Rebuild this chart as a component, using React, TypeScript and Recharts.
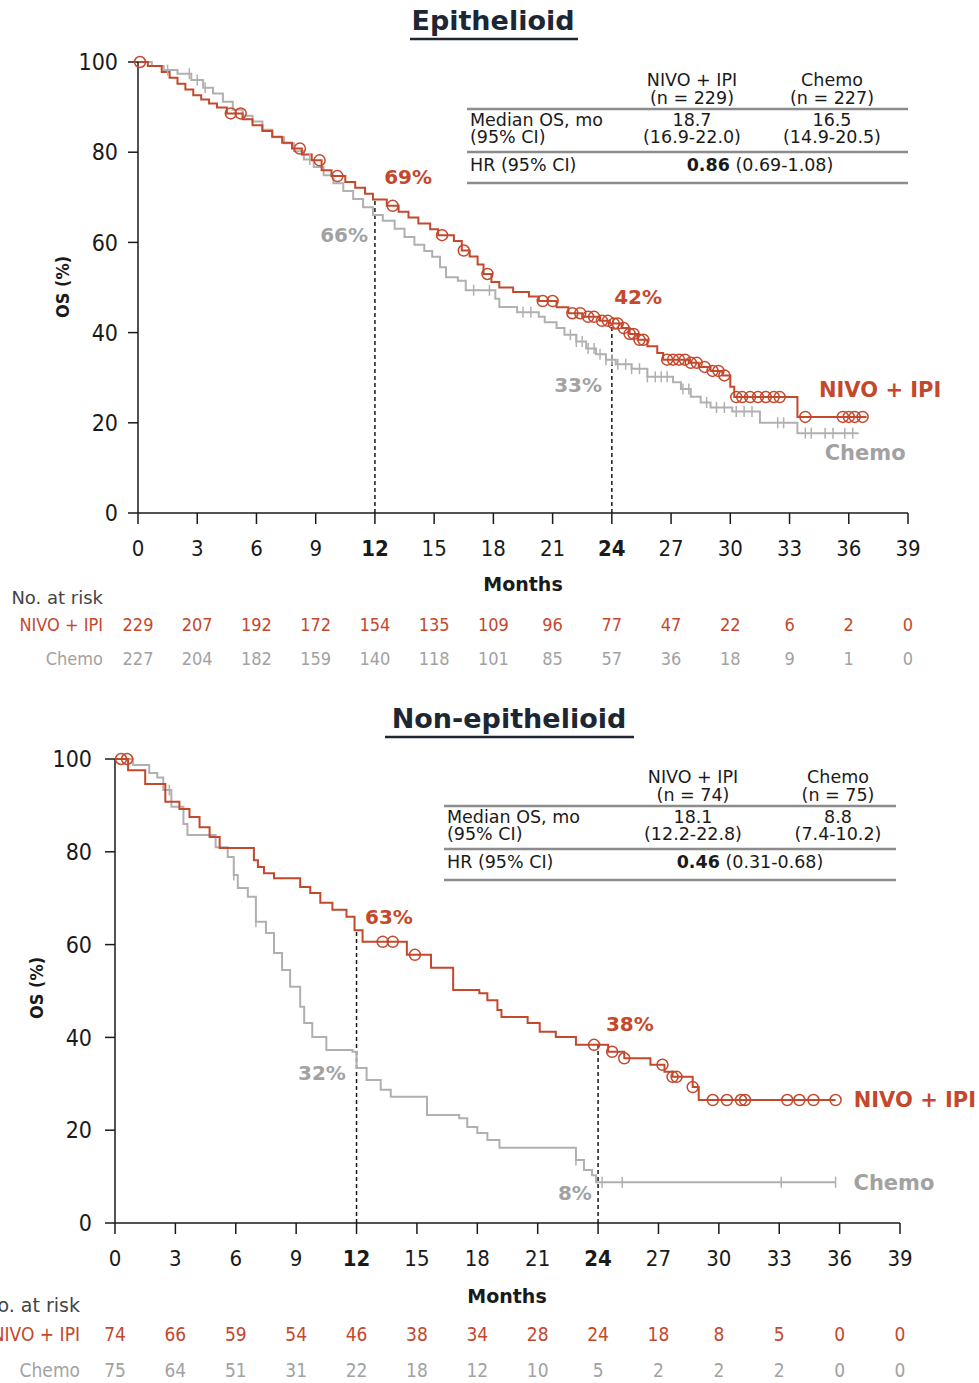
import React from "react";
import { ComposedChart, Line, Scatter, XAxis, YAxis, ReferenceLine, ReferenceDot } from "recharts";

const RED = "#c4482c";
const GRAY = "#b0b0b0";
const GRAY_TXT = "#a2a2a2";
const INK = "#1a1a1a";
const FONT = "'DejaVu Sans', sans-serif";
const COND = "'DejaVu Sans Condensed', 'DejaVu Sans', sans-serif";

const MONTHS = [0, 3, 6, 9, 12, 15, 18, 21, 24, 27, 30, 33, 36, 39];
const OS_TICKS = [0, 20, 40, 60, 80, 100];

// Epithelioid — KM steps [month, OS %]
const epiNivoSteps = [
  [0, 100], [0.5, 99.1], [1.2, 97.8], [1.6, 96.5], [2.0, 95.2], [2.4, 93.9], [2.8, 92.6], [3.2, 91.7],
  [3.6, 90.8], [4.0, 89.9], [4.5, 88.6], [5.3, 87.3], [5.8, 86.0], [6.3, 84.7], [6.8, 83.4], [7.3, 82.1],
  [7.8, 80.8], [8.3, 79.5], [8.8, 78.2], [9.3, 76.0], [9.8, 74.7], [10.5, 73.4], [11.0, 72.1], [11.5, 70.8],
  [11.9, 69.5], [12.6, 68.1], [13.2, 66.8], [13.7, 65.5], [14.2, 64.2], [14.8, 62.9], [15.2, 61.6], [16.0, 60.3],
  [16.4, 58.2], [16.8, 56.9], [17.2, 55.1], [17.5, 53.0], [17.9, 51.2], [18.3, 50.0], [19.0, 49.0], [19.8, 48.0],
  [20.3, 47.0], [21.2, 45.6], [21.8, 44.3], [22.5, 43.5], [23.4, 42.6], [23.9, 42.0], [24.5, 41.0], [24.9, 39.7],
  [25.3, 38.4], [25.8, 37.0], [26.3, 35.5], [26.6, 34.0], [27.9, 33.3], [28.4, 32.4], [29.0, 31.5], [29.6, 30.5],
  [30.0, 28.0], [30.2, 25.7], [33.4, 21.3], [36.9, 21.3],
];
const epiNivoCensor = [
  0.1, 4.7, 5.2, 8.2, 9.2, 10.1, 12.9, 15.4, 16.5, 17.7, 20.5, 21.0, 22.0, 22.4, 22.8, 23.1, 23.5, 23.8,
  24.1, 24.3, 24.6, 24.9, 25.1, 25.4, 25.6, 26.8, 27.1, 27.4, 27.7, 28.0, 28.3, 28.7, 29.1, 29.4, 29.7,
  30.3, 30.6, 31.0, 31.4, 31.8, 32.2, 32.5, 33.8, 35.7, 36.0, 36.3, 36.7,
];
const epiChemoSteps = [
  [0, 100], [0.7, 99.1], [1.3, 98.2], [2.0, 97.4], [2.7, 96.0], [3.3, 94.3], [3.8, 93.0], [4.3, 91.2],
  [4.8, 89.4], [5.3, 88.1], [5.8, 86.8], [6.3, 85.0], [6.8, 83.3], [7.4, 82.0], [7.9, 80.2], [8.4, 78.4],
  [8.9, 76.7], [9.4, 74.9], [9.9, 73.1], [10.4, 71.4], [10.9, 69.6], [11.4, 67.8], [11.9, 66.1], [12.4, 64.8],
  [13.0, 63.0], [13.5, 61.2], [14.0, 59.5], [14.5, 58.1], [14.9, 56.8], [15.3, 54.5], [15.6, 52.3], [16.2, 51.5],
  [16.6, 49.4], [18.1, 47.5], [18.3, 45.7], [19.2, 44.5], [20.3, 43.5], [20.6, 42.3], [21.2, 41.0], [21.6, 39.5],
  [22.2, 38.0], [22.7, 36.5], [23.2, 35.2], [23.7, 34.0], [24.2, 33.0], [25.0, 32.0], [25.8, 30.2], [27.1, 29.0],
  [27.5, 27.5], [28.0, 25.8], [28.5, 24.5], [29.0, 23.4], [30.1, 22.5], [31.5, 20.0], [33.4, 17.7], [36.5, 17.7],
];
const epiChemoCensor = [
  1.5, 2.6, 3.0, 3.4, 8.7, 17.0, 17.8, 19.5, 19.9, 21.9, 22.2, 22.5, 22.8, 23.1, 23.4, 23.7, 24.0, 24.3,
  24.7, 25.0, 25.4, 25.8, 26.2, 26.5, 26.8, 27.6, 27.9, 28.8, 29.3, 29.7, 30.3, 30.7, 31.1, 32.4, 32.7,
  33.8, 34.1, 34.8, 35.2, 35.8, 36.2,
];
const epiRiskNivo = [229, 207, 192, 172, 154, 135, 109, 96, 77, 47, 22, 6, 2, 0];
const epiRiskChemo = [227, 204, 182, 159, 140, 118, 101, 85, 57, 36, 18, 9, 1, 0];

// Non-epithelioid
const nonNivoSteps = [
  [0, 100], [0.65, 97.6], [1.5, 94.6], [2.5, 90.8], [3.2, 89.2], [3.7, 87.5], [4.2, 85.3], [4.7, 83.2],
  [5.2, 80.8], [6.9, 78.2], [7.1, 76.7], [7.4, 75.4], [7.9, 74.3], [9.2, 72.4], [9.7, 71.1], [10.2, 69.0],
  [10.8, 67.5], [11.5, 66.0], [11.9, 63.1], [12.3, 60.6], [14.5, 57.8], [15.7, 55.0], [16.8, 50.2], [18.1, 49.5],
  [18.5, 48.0], [19.0, 45.9], [19.2, 44.4], [20.5, 43.1], [21.1, 41.2], [21.9, 40.1], [22.9, 38.4], [24.5, 36.9],
  [25.3, 35.5], [26.6, 34.1], [27.3, 32.6], [27.7, 31.5], [28.7, 29.3], [29.0, 26.5], [35.8, 26.5],
];
const nonNivoCensor = [
  0.3, 0.6, 13.3, 13.8, 14.9, 23.8, 24.7, 25.3, 27.2, 27.7, 27.9, 28.7, 29.7, 30.4, 31.1, 31.3, 33.4, 34.0, 34.7, 35.8,
];
const nonChemoSteps = [
  [0, 100], [0.9, 98.7], [1.7, 97.0], [2.1, 96.0], [2.4, 93.3], [2.8, 89.7], [3.4, 86.0], [3.6, 83.6],
  [5.0, 81.0], [5.6, 78.9], [5.9, 75.0], [6.1, 72.2], [6.6, 70.3], [7.0, 64.9], [7.5, 62.5], [7.9, 58.2],
  [8.3, 54.5], [8.7, 50.9], [9.2, 46.6], [9.4, 43.1], [9.8, 40.1], [10.5, 37.3], [11.8, 36.9], [12.0, 33.4],
  [12.5, 30.8], [13.2, 28.7], [13.7, 27.2], [15.5, 23.3], [17.1, 22.6], [17.5, 20.7], [18.0, 19.4], [18.5, 17.9],
  [19.1, 16.2], [22.9, 13.6], [23.3, 11.4], [23.7, 10.3], [23.9, 8.8], [35.8, 8.8],
];
const nonChemoCensor = [2.7, 5.9, 7.0, 22.9, 24.2, 25.2, 33.1, 35.8];
const nonRiskNivo = [74, 66, 59, 54, 46, 38, 34, 28, 24, 18, 8, 5, 0, 0];
const nonRiskChemo = [75, 64, 51, 31, 22, 18, 12, 10, 5, 2, 2, 2, 0, 0];

const toPts = (steps: number[][]) => steps.map(([t, s]) => ({ t, s }));
const survAt = (steps: number[][], t: number) => {
  let s = steps[0][1];
  for (const [tt, ss] of steps) if (tt <= t) s = ss;
  return s;
};
const censorPts = (steps: number[][], times: number[]) => times.map((t) => ({ t, s: survAt(steps, t) }));

const CircleMark = (p: any) => (
  <circle cx={p.cx} cy={p.cy} r={5.5} fill="none" stroke={RED} strokeWidth={1.5} />
);
const TickMark = (p: any) => (
  <line x1={p.cx} x2={p.cx} y1={p.cy - 5.5} y2={p.cy + 5.5} stroke={GRAY} strokeWidth={1.5} />
);

const XTick = (p: any) => {
  const v = p.payload.value;
  const bold = v === 12 || v === 24;
  return (
    <text x={p.x} y={p.y} dy="0.72em" textAnchor="middle" fontSize={22} fontFamily={COND}
      fontWeight={bold ? 700 : 400} fill={INK}>{v}</text>
  );
};
const YTick = (p: any) => (
  <text x={p.x} y={p.y} dy="0.36em" textAnchor="end" fontSize={23} fontFamily={COND} fill={INK}>
    {p.payload.value}
  </text>
);

type Lbl = { t: number; s: number; text: string; color: string; size: number };

function KMPanel(props: {
  top: number; height: number; plotTop: number; plotBottom: number; plotLeft: number; plotRight: number;
  nivo: number[][]; chemo: number[][]; nivoCensor: number[]; chemoCensor: number[];
  dash12: number; dash24: number; labels: Lbl[]; yTickMargin: number;
}) {
  const { top, height, plotTop, plotBottom, plotLeft, plotRight } = props;
  const axisStyle = { stroke: INK, strokeWidth: 1.5 };
  return (
    <div style={{ position: "absolute", left: 0, top }}>
      <ComposedChart
        width={979}
        height={height}
        margin={{ top: plotTop, right: 979 - plotRight, left: plotLeft - 60, bottom: height - plotBottom - 40 }}
      >
        <XAxis type="number" dataKey="t" domain={[0, 39]} ticks={MONTHS} interval={0} height={40}
          tickSize={11} tickMargin={16} axisLine={axisStyle} tickLine={axisStyle} tick={<XTick />} />
        <YAxis type="number" domain={[0, 100]} ticks={OS_TICKS} interval={0} width={60}
          tickSize={10} tickMargin={props.yTickMargin} axisLine={axisStyle} tickLine={axisStyle} tick={<YTick />} />
        <ReferenceLine segment={[{ x: 12, y: 0 }, { x: 12, y: props.dash12 }]} stroke={INK}
          strokeWidth={1.5} strokeDasharray="4 3" />
        <ReferenceLine segment={[{ x: 24, y: 0 }, { x: 24, y: props.dash24 }]} stroke={INK}
          strokeWidth={1.5} strokeDasharray="4 3" />
        <Line data={toPts(props.chemo)} dataKey="s" type="stepAfter" stroke={GRAY} strokeWidth={2}
          dot={false} isAnimationActive={false} />
        <Scatter data={censorPts(props.chemo, props.chemoCensor)} dataKey="s" shape={TickMark}
          isAnimationActive={false} />
        <Line data={toPts(props.nivo)} dataKey="s" type="stepAfter" stroke={RED} strokeWidth={2}
          dot={false} isAnimationActive={false} />
        <Scatter data={censorPts(props.nivo, props.nivoCensor)} dataKey="s" shape={CircleMark}
          isAnimationActive={false} />
        {props.labels.map((l) => (
          <ReferenceDot key={l.text + l.t} x={l.t} y={l.s} r={1} fill="none" stroke="none" ifOverflow="visible"
            label={{ value: l.text, position: "center", fill: l.color, fontSize: l.size, fontWeight: 700, fontFamily: FONT }} />
        ))}
      </ComposedChart>
    </div>
  );
}

const epiLabels: Lbl[] = [
  { t: 13.68, s: 74.5, text: "69%", color: RED, size: 20 },
  { t: 10.44, s: 61.6, text: "66%", color: GRAY_TXT, size: 20 },
  { t: 25.33, s: 47.9, text: "42%", color: RED, size: 20 },
  { t: 22.29, s: 28.4, text: "33%", color: GRAY_TXT, size: 20 },
  { t: 37.59, s: 27.3, text: "NIVO + IPI", color: RED, size: 21 },
  { t: 36.83, s: 13.3, text: "Chemo", color: GRAY_TXT, size: 21 },
];
const nonLabels: Lbl[] = [
  { t: 13.61, s: 65.9, text: "63%", color: RED, size: 20 },
  { t: 10.28, s: 32.3, text: "32%", color: GRAY_TXT, size: 20 },
  { t: 25.58, s: 42.9, text: "38%", color: RED, size: 20 },
  { t: 22.85, s: 6.5, text: "8%", color: GRAY_TXT, size: 20 },
  { t: 39.74, s: 26.5, text: "NIVO + IPI", color: RED, size: 21 },
  { t: 38.7, s: 8.8, text: "Chemo", color: GRAY_TXT, size: 21 },
];

function RiskTable({ y, x0, pxPerMonth, labelRight, nivo, chemo, row1, row2, size }: {
  y: number; x0: number; pxPerMonth: number; labelRight: number; nivo: number[]; chemo: number[];
  row1: number; row2: number; size: number;
}) {
  return (
    <g fontFamily={COND} fontSize={size}>
      <text x={labelRight} y={y} textAnchor="end" fontFamily={FONT} fontSize={size} fill="#444">No. at risk</text>
      <text x={labelRight} y={y + row1} textAnchor="end" fill={RED}>NIVO + IPI</text>
      <text x={labelRight} y={y + row2} textAnchor="end" fill={GRAY_TXT}>Chemo</text>
      {nivo.map((v, i) => (
        <text key={"n" + i} x={x0 + MONTHS[i] * pxPerMonth} y={y + row1} textAnchor="middle" fill={RED}>{v}</text>
      ))}
      {chemo.map((v, i) => (
        <text key={"c" + i} x={x0 + MONTHS[i] * pxPerMonth} y={y + row2} textAnchor="middle" fill={GRAY_TXT}>{v}</text>
      ))}
    </g>
  );
}

function StatsTable({ x, y, right, c1, c2, hrX, n1, n2, med1, ci1, med2, ci2, hr, hrCi }: {
  x: number; y: number; right: number; c1: number; c2: number; hrX: number; n1: string; n2: string;
  med1: string; ci1: string; med2: string; ci2: string; hr: string; hrCi: string;
}) {
  const line = "#8c8c8c";
  return (
    <g fontFamily={FONT} fontSize={17.5} fill={INK}>
      <text x={c1} y={y} textAnchor="middle">NIVO + IPI</text>
      <text x={c1} y={y + 18} textAnchor="middle">{n1}</text>
      <text x={c2} y={y} textAnchor="middle">Chemo</text>
      <text x={c2} y={y + 18} textAnchor="middle">{n2}</text>
      <line x1={x - 3} x2={right} y1={y + 23} y2={y + 23} stroke={line} strokeWidth={2.5} />
      <text x={x} y={y + 40}>Median OS, mo</text>
      <text x={x} y={y + 57}>(95% CI)</text>
      <text x={c1} y={y + 40} textAnchor="middle">{med1}</text>
      <text x={c1} y={y + 57} textAnchor="middle">{ci1}</text>
      <text x={c2} y={y + 40} textAnchor="middle">{med2}</text>
      <text x={c2} y={y + 57} textAnchor="middle">{ci2}</text>
      <line x1={x - 3} x2={right} y1={y + 66} y2={y + 66} stroke={line} strokeWidth={2.5} />
      <text x={x} y={y + 85}>HR (95% CI)</text>
      <text x={hrX} y={y + 85} textAnchor="middle">
        <tspan fontWeight={700}>{hr}</tspan> {hrCi}
      </text>
      <line x1={x - 3} x2={right} y1={y + 97} y2={y + 97} stroke={line} strokeWidth={2.5} />
    </g>
  );
}

export default function App() {
  return (
    <div style={{ position: "absolute", left: 0, top: 0, width: 979, height: 1383, background: "#fff", overflow: "hidden" }}>
      <KMPanel top={0} height={560} plotTop={62} plotBottom={513} plotLeft={138} plotRight={908}
        nivo={epiNivoSteps} chemo={epiChemoSteps} nivoCensor={epiNivoCensor} chemoCensor={epiChemoCensor}
        dash12={69.5} dash24={42} labels={epiLabels} yTickMargin={10} />
      <KMPanel top={700} height={570} plotTop={59} plotBottom={523} plotLeft={115} plotRight={900}
        nivo={nonNivoSteps} chemo={nonChemoSteps} nivoCensor={nonNivoCensor} chemoCensor={nonChemoCensor}
        dash12={63.1} dash24={38.4} labels={nonLabels} yTickMargin={13} />
      <svg width={979} height={1383} style={{ position: "absolute", left: 0, top: 0, pointerEvents: "none" }}>
        {/* titles */}
        <text x={493} y={30} textAnchor="middle" fontFamily={FONT} fontSize={27} fontWeight={700} fill="#1d2733">Epithelioid</text>
        <line x1={410} x2={578} y1={39} y2={39} stroke="#1d2733" strokeWidth={2.5} />
        <text x={509} y={728} textAnchor="middle" fontFamily={FONT} fontSize={27} fontWeight={700} fill="#1d2733">Non-epithelioid</text>
        <line x1={385} x2={634} y1={737} y2={737} stroke="#1d2733" strokeWidth={2.5} />
        {/* axis titles */}
        <text x={523} y={591} textAnchor="middle" fontFamily={FONT} fontSize={19} fontWeight={700} fill={INK}>Months</text>
        <text x={507} y={1303} textAnchor="middle" fontFamily={FONT} fontSize={19} fontWeight={700} fill={INK}>Months</text>
        <text transform="translate(69,287) rotate(-90)" textAnchor="middle" fontFamily={COND} fontSize={18} fontWeight={700} fill={INK}>OS (%)</text>
        <text transform="translate(43,988) rotate(-90)" textAnchor="middle" fontFamily={COND} fontSize={18} fontWeight={700} fill={INK}>OS (%)</text>
        <StatsTable x={470} y={86} right={908} c1={692} c2={832} hrX={760} n1="(n = 229)" n2="(n = 227)"
          med1="18.7" ci1="(16.9-22.0)" med2="16.5" ci2="(14.9-20.5)" hr="0.86" hrCi="(0.69-1.08)" />
        <StatsTable x={447} y={783} right={896} c1={693} c2={838} hrX={750} n1="(n = 74)" n2="(n = 75)"
          med1="18.1" ci1="(12.2-22.8)" med2="8.8" ci2="(7.4-10.2)" hr="0.46" hrCi="(0.31-0.68)" />
        <RiskTable y={604} x0={138} pxPerMonth={770 / 39} labelRight={103} row1={27} row2={61} size={18}
          nivo={epiRiskNivo} chemo={epiRiskChemo} />
        <RiskTable y={1312} x0={115} pxPerMonth={785 / 39} labelRight={80} row1={29} row2={65} size={19}
          nivo={nonRiskNivo} chemo={nonRiskChemo} />
      </svg>
    </div>
  );
}
